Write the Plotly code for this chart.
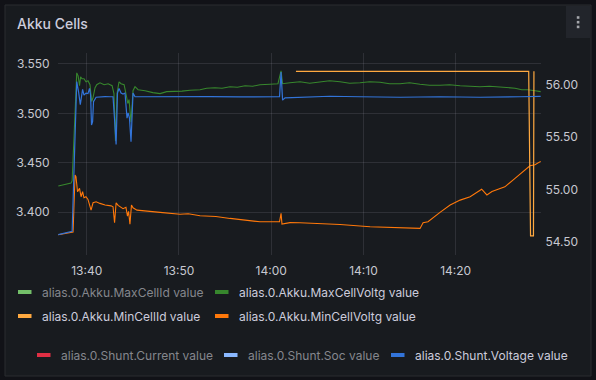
import plotly.graph_objects as go

DATE = "2024-01-01 "

# ---- data ----
max_voltg_t = ["13:36:55", "13:38:18", "13:38:25", "13:38:55", "13:39:04", "13:39:13", "13:39:20", "13:39:29",
               "13:39:42", "13:39:55", "13:40:08", "13:40:21", "13:40:32", "13:40:41", "13:40:54", "13:41:05",
               "13:41:26", "13:41:53", "13:42:19", "13:42:45", "13:42:57", "13:43:07", "13:43:17", "13:43:30",
               "13:43:43", "13:44:03", "13:44:15", "13:44:27", "13:44:35", "13:44:48", "13:45:01", "13:45:14",
               "13:45:34", "13:46:19", "13:47:10", "13:47:57", "13:48:40", "13:49:34", "13:50:20", "13:51:12",
               "13:52:17", "13:53:00", "13:53:54", "13:54:40", "13:55:32", "13:56:20", "13:57:10", "13:58:00",
               "13:58:47", "13:59:52", "14:00:44", "14:01:04", "14:01:14", "14:02:02", "14:03:07", "14:04:10",
               "14:05:17", "14:06:20", "14:07:28", "14:08:30", "14:09:38", "14:10:40", "14:11:48", "14:12:50",
               "14:13:58", "14:15:00", "14:16:08", "14:17:10", "14:18:18", "14:19:20", "14:20:29", "14:21:30",
               "14:22:38", "14:23:40", "14:24:48", "14:25:40", "14:26:26", "14:27:10", "14:27:50", "14:28:36",
               "14:29:13"]
max_voltg_v = [3.4265, 3.4295, 3.432, 3.541, 3.538, 3.528, 3.537, 3.535,
               3.535, 3.532, 3.533, 3.529, 3.512, 3.516, 3.526, 3.529,
               3.531, 3.529, 3.530, 3.528, 3.520, 3.472, 3.520, 3.532,
               3.530, 3.529, 3.520, 3.510, 3.514, 3.491, 3.523, 3.527,
               3.524, 3.523, 3.521, 3.520, 3.522, 3.522, 3.5225, 3.5235,
               3.524, 3.5255, 3.526, 3.5255, 3.527, 3.5265, 3.528, 3.5275,
               3.529, 3.5295, 3.530, 3.543, 3.530, 3.531, 3.532, 3.5305,
               3.5315, 3.533, 3.532, 3.5305, 3.531, 3.532, 3.5315, 3.530,
               3.530, 3.531, 3.5295, 3.5285, 3.5285, 3.529, 3.528, 3.5275,
               3.527, 3.5275, 3.5265, 3.5255, 3.5255, 3.524, 3.524, 3.523,
               3.522]

min_cellid_t = ["14:02:41", "14:27:55", "14:28:07", "14:28:26", "14:28:29"]
min_cellid_v = [56.128, 56.128, 54.555, 54.555, 56.128]

min_voltg_t = ["13:36:55", "13:38:18", "13:38:31", "13:38:44", "13:38:50", "13:39:00", "13:39:13", "13:39:23",
               "13:39:33", "13:39:42", "13:39:55", "13:40:08", "13:40:21", "13:40:28", "13:40:41", "13:41:01",
               "13:41:26", "13:41:59", "13:42:38", "13:42:51", "13:43:01", "13:43:11", "13:43:24", "13:43:43",
               "13:43:56", "13:44:15", "13:44:25", "13:44:32", "13:44:41", "13:44:51", "13:45:01", "13:45:27",
               "13:46:19", "13:47:57", "13:50:07", "13:51:00", "13:52:17", "13:54:00", "13:55:32", "13:57:00",
               "13:58:47", "14:00:54", "14:01:04", "14:01:10", "14:02:02", "14:03:07", "14:05:17", "14:07:28",
               "14:10:43", "14:13:58", "14:15:36", "14:16:08", "14:16:28", "14:17:00", "14:18:18", "14:19:24",
               "14:20:29", "14:21:34", "14:22:49", "14:23:23", "14:23:56", "14:25:20", "14:26:26", "14:27:31",
               "14:28:03", "14:28:36", "14:29:13"]
min_voltg_v = [3.3773, 3.3793, 3.380, 3.4377, 3.436, 3.4208, 3.4242, 3.4157,
               3.4208, 3.4147, 3.4157, 3.413, 3.404, 3.4022, 3.4096, 3.4106,
               3.409, 3.4073, 3.4065, 3.4056, 3.3894, 3.4096, 3.407, 3.4046,
               3.4036, 3.405, 3.3962, 3.401, 3.388, 3.4073, 3.4045, 3.4022,
               3.4012, 3.3999, 3.398, 3.3985, 3.3965, 3.3958, 3.3938, 3.3925,
               3.3904, 3.3904, 3.399, 3.388, 3.3895, 3.3894, 3.3886, 3.3877,
               3.3853, 3.3845, 3.3837, 3.3837, 3.3894, 3.3904, 3.3999, 3.4073,
               3.4123, 3.4157, 3.4233, 3.4175, 3.421, 3.4257, 3.4343, 3.4427,
               3.447, 3.448, 3.4515]

shunt_volt_t = ["13:36:55", "13:38:18", "13:38:25", "13:38:55", "13:38:58", "13:39:07", "13:39:18", "13:39:33",
                "13:39:42", "13:39:55", "13:40:08", "13:40:18", "13:40:25", "13:40:31", "13:40:38", "13:40:44",
                "13:41:01", "13:41:26", "13:41:59", "13:42:32", "13:42:51", "13:43:04", "13:43:11", "13:43:20",
                "13:43:30", "13:43:43", "13:43:56", "13:44:09", "13:44:22", "13:44:29", "13:44:38", "13:44:48",
                "13:45:01", "13:45:14", "13:46:52", "13:50:07", "13:53:22", "13:56:38", "14:00:54", "14:01:04",
                "14:01:14", "14:01:30", "14:03:07", "14:06:22", "14:09:38", "14:13:58", "14:18:18", "14:22:38",
                "14:26:58", "14:29:13"]
shunt_volt_v = [54.567, 54.596, 54.60, 56.03, 56.01, 55.93, 55.81, 55.956,
                55.90, 55.92, 55.915, 55.965, 55.90, 55.615, 55.647, 55.838,
                55.88, 55.885, 55.887, 55.885, 55.885, 55.60, 55.43, 55.92,
                55.965, 55.92, 55.91, 55.92, 55.68, 55.73, 55.68, 55.455,
                55.92, 55.885, 55.886, 55.884, 55.886, 55.884, 55.885, 56.12,
                55.853, 55.875, 55.882, 55.89, 55.885, 55.88, 55.885, 55.88,
                55.885, 55.888]

legend_items = [
    ("alias.0.Akku.MaxCellId value", "#73BF69", False),
    ("alias.0.Akku.MaxCellVoltg value", "#37872D", True),
    ("alias.0.Akku.MinCellId value", "#FFA940", True),
    ("alias.0.Akku.MinCellVoltg value", "#FF780A", True),
    ("alias.0.Shunt.Current value", "#E02F44", False),
    ("alias.0.Shunt.Soc value", "#8AB8FF", False),
    ("alias.0.Shunt.Voltage value", "#3274D9", True),
]
x_ticks = ["13:40", "13:50", "14:00", "14:10", "14:20"]
y1_ticks = [3.40, 3.45, 3.50, 3.55]
y2_ticks = [54.5, 55.0, 55.5, 56.0]

# ---- layout geometry (pixels) ----
W, H = 596, 380
PL, PR, PT, PB = 58, 541, 53, 255


def fx(px):
    return (px - PL) / (PR - PL)


def fy(py):
    return (PB - py) / (PB - PT)


def ts(lst):
    return [DATE + t for t in lst]


fig = go.Figure()
fig.add_trace(go.Scatter(x=ts(max_voltg_t), y=max_voltg_v, mode="lines",
                         line=dict(color="#37872D", width=1.1), yaxis="y"))
fig.add_trace(go.Scatter(x=ts(min_cellid_t), y=min_cellid_v, mode="lines",
                         line=dict(color="#FFA940", width=1.2), yaxis="y2"))
fig.add_trace(go.Scatter(x=ts(min_voltg_t), y=min_voltg_v, mode="lines",
                         line=dict(color="#FF780A", width=1.1), yaxis="y"))
fig.add_trace(go.Scatter(x=ts(shunt_volt_t), y=shunt_volt_v, mode="lines",
                         line=dict(color="#3274D9", width=1.2), yaxis="y2"))

shapes = []
annotations = []

# panel background
shapes.append(dict(type="rect", xref="paper", yref="paper", layer="below",
                   x0=fx(5), x1=fx(591), y0=fy(5), y1=fy(376),
                   fillcolor="#181b1f", line=dict(color="#2a2c31", width=1)))
# menu button
shapes.append(dict(type="rect", xref="paper", yref="paper", layer="below",
                   x0=fx(566), x1=fx(590), y0=fy(6), y1=fy(38),
                   fillcolor="#22252b", line=dict(width=0)))
for dy in (16.2, 20.9, 25.6):
    shapes.append(dict(type="rect", xref="paper", yref="paper", layer="above",
                       x0=fx(576.8), x1=fx(579.4), y0=fy(dy), y1=fy(dy + 2.6),
                       fillcolor="#a4a6ab", line=dict(width=0)))

annotations.append(dict(text="Akku Cells", xref="paper", yref="paper",
                        x=fx(15), y=fy(23), xanchor="left", yanchor="middle",
                        showarrow=False,
                        font=dict(family="Inter", size=14, color="#ccccdc", weight=500)))

# legend (drawn manually to match Grafana's wrapped layout)
leg_pos = [(18, 292), (215, 292), (18, 316), (215, 316), (37, 355), (224, 355), (391, 355)]
for (label, color, visible), (mx, my) in zip(legend_items, leg_pos):
    shapes.append(dict(type="rect", xref="paper", yref="paper", layer="above",
                       x0=fx(mx), x1=fx(mx + 13.5), y0=fy(my - 2), y1=fy(my + 2),
                       fillcolor=color, line=dict(width=0)))
    annotations.append(dict(text=label, xref="paper", yref="paper",
                            x=fx(mx + 22), y=fy(my), xanchor="left", yanchor="middle",
                            showarrow=False,
                            font=dict(family="Inter", size=12,
                                      color="#ccccdc" if visible else "#85878d")))

grid = "rgba(204,204,220,0.12)"
tickfont = dict(family="Inter", size=12, color="#c7c8d0")

fig.update_layout(
    width=W, height=H,
    margin=dict(l=PL, r=W - PR, t=PT, b=H - PB, pad=0),
    paper_bgcolor="#111217",
    plot_bgcolor="rgba(0,0,0,0)",
    showlegend=False,
    shapes=shapes,
    annotations=annotations,
    xaxis=dict(type="date",
               range=[DATE + "13:36:53", DATE + "14:29:15"],
               tickvals=ts(x_ticks), ticktext=x_ticks,
               showgrid=True, gridcolor=grid, gridwidth=1,
               zeroline=False, showline=False,
               ticks="outside", ticklen=5, tickcolor="rgba(0,0,0,0)",
               tickfont=tickfont),
    yaxis=dict(range=[3.3568, 3.5611], tickvals=y1_ticks, tickformat=".3f",
               showgrid=True, gridcolor=grid, gridwidth=1,
               zeroline=False, showline=False,
               ticks="outside", ticklen=5, tickcolor="rgba(0,0,0,0)",
               tickfont=tickfont),
    yaxis2=dict(range=[54.373, 56.303], tickvals=y2_ticks, tickformat=".2f",
                overlaying="y", side="right",
                showgrid=False, zeroline=False, showline=False,
                ticks="outside", ticklen=1, tickcolor="rgba(0,0,0,0)",
                tickfont=tickfont),
)

fig.write_html("out.html",
               config={"displayModeBar": False},
               post_script="document.body.style.margin='0';document.body.style.background='#111217';")
